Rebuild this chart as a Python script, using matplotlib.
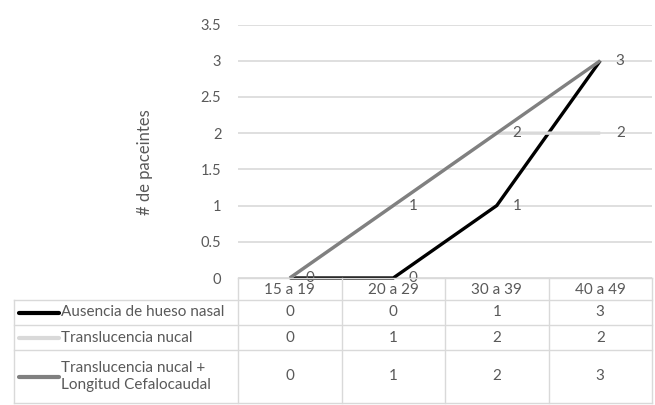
import matplotlib
matplotlib.use("Agg")
import matplotlib.pyplot as plt
from matplotlib.lines import Line2D

plt.rcParams['font.family'] = ['Lato', 'DejaVu Sans']

categories = ["15 a 19", "20 a 29", "30 a 39", "40 a 49"]
series_names = ["Ausencia de hueso nasal",
                "Translucencia nucal",
                "Translucencia nucal +\nLongitud Cefalocaudal"]
ausencia = [0, 0, 1, 3]
translucencia = [0, 1, 2, 2]
transl_lcc = [0, 1, 2, 3]
series_values = [ausencia, translucencia, transl_lcc]
series_colors = ["#000000", "#D9D9D9", "#808080"]
y_ticks = [0, 0.5, 1, 1.5, 2, 2.5, 3, 3.5]
y_label = "# de paceintes"

TEXT = "#595959"
GRID = "#D9D9D9"
FS = 11

W, H = 655, 405
fig = plt.figure(figsize=(W / 100, H / 100), dpi=100)

# pixel layout helpers (origin top-left)
def fx(px):
    return px / W

def fy(py):
    return 1 - py / H

plot_left, plot_right = 238, 652
plot_top, plot_bottom = 24.5, 278
ax = fig.add_axes([fx(plot_left), fy(plot_bottom),
                   fx(plot_right) - fx(plot_left),
                   fy(plot_top) - fy(plot_bottom)])
ax.set_xlim(-0.5, len(categories) - 0.5)
ax.set_ylim(0, 3.5)
ax.set_yticks(y_ticks)
ax.set_yticklabels([f"{t:g}" for t in y_ticks], color=TEXT, fontsize=10.5)
ax.set_xticks([])
ax.tick_params(axis='y', length=0, pad=12)
for s in ax.spines.values():
    s.set_visible(False)
ax.grid(axis='y', color=GRID, linewidth=1.2)
ax.set_axisbelow(True)
ax.set_ylabel(y_label, color=TEXT, fontsize=12)
ax.yaxis.set_label_coords((153 - plot_left) / (plot_right - plot_left),
                          (plot_bottom - 162) / (plot_bottom - plot_top))

x = list(range(len(categories)))
draw_order = [1, 0, 2]
for i in draw_order:
    ax.plot(x, series_values[i], color=series_colors[i], linewidth=2.4,
            solid_capstyle='butt', solid_joinstyle='miter', zorder=3 + i,
            clip_on=False)

# value labels to the right of each point; coinciding labels drawn once
placed = set()
for i in range(len(series_values)):
    for xi, v in zip(x, series_values[i]):
        if (xi, v) in placed:
            continue
        placed.add((xi, v))
        ax.annotate(f"{v}", (xi, v), xytext=(20, 0), textcoords='offset pixels',
                    ha='center', va='center', color=TEXT, fontsize=FS,
                    zorder=10, annotation_clip=False)

# data table below the plot
tab = fig.add_axes([0, 0, 1, 1])
tab.set_xlim(0, W)
tab.set_ylim(H, 0)
tab.axis('off')

col_edges = [plot_left + (plot_right - plot_left) * k / len(categories)
             for k in range(len(categories) + 1)]
label_left = 14
row_edges = [278, 300, 325, 350, 403]

lk = dict(color=GRID, linewidth=1.0)
tab.plot([col_edges[0], col_edges[-1]], [row_edges[0], row_edges[0]], **lk)
for r in row_edges[1:]:
    tab.plot([label_left, col_edges[-1]], [r, r], **lk)
for c in col_edges:
    tab.plot([c, c], [row_edges[0], row_edges[-1]], **lk)
tab.plot([label_left, label_left], [row_edges[1], row_edges[-1]], **lk)

for j, cat in enumerate(categories):
    cx = (col_edges[j] + col_edges[j + 1]) / 2
    tab.text(cx, (row_edges[0] + row_edges[1]) / 2 + 1, cat, ha='center',
             va='center', color=TEXT, fontsize=FS)

for i, name in enumerate(series_names):
    cy = (row_edges[i + 1] + row_edges[i + 2]) / 2
    tab.add_line(Line2D([19, 59], [cy, cy], color=series_colors[i],
                        linewidth=3, solid_capstyle='round'))
    tab.text(61, cy, name, ha='left', va='center', color=TEXT, fontsize=FS,
             linespacing=1.25)
    for j, v in enumerate(series_values[i]):
        cx = (col_edges[j] + col_edges[j + 1]) / 2
        tab.text(cx, cy, f"{v}", ha='center', va='center', color=TEXT,
                 fontsize=FS)

fig.savefig("out.png", dpi=100)
